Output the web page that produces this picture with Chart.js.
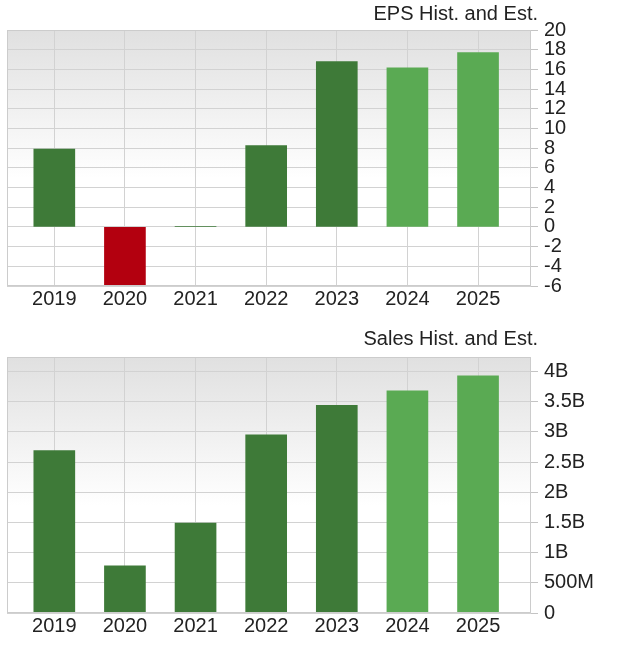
<!DOCTYPE html>
<html>
<head>
<meta charset="utf-8">
<title>EPS and Sales Hist. and Est.</title>
<script src="https://cdn.jsdelivr.net/npm/chart.js@4.4.0/dist/chart.umd.min.js"></script>
<style>
  body { margin: 0; background: #fff; width: 620px; height: 653px; position: relative; overflow: hidden; font-family: "Liberation Sans", Arial, sans-serif; }
  canvas { position: absolute; left: 0; }
  .title { position: absolute; right: 82px; font-size: 20px; line-height: 24px; color: #222; white-space: nowrap; }
</style>
</head>
<body>
<canvas id="epsChart" width="620" height="320" style="top:0"></canvas>
<canvas id="salesChart" width="620" height="333" style="top:320px"></canvas>
<div class="title" style="top:1px">EPS Hist. and Est.</div>
<div class="title" style="top:326px">Sales Hist. and Est.</div>

<script>
// values
const years = ['2019', '2020', '2021', '2022', '2023', '2024', '2025'];
const estimateYears = ['2024', '2025'];

const epsValues = [7.9, -6, 0.04, 8.25, 16.8, 16.15, 17.7];
const epsTicks = [-6, -4, -2, 0, 2, 4, 6, 8, 10, 12, 14, 16, 18, 20];
const epsTickLabels = ['-6', '-4', '-2', '0', '2', '4', '6', '8', '10', '12', '14', '16', '18', '20'];

const salesValues = [2.69e9, 0.78e9, 1.49e9, 2.95e9, 3.44e9, 3.68e9, 3.93e9];
const salesTicks = [0, 0.5e9, 1e9, 1.5e9, 2e9, 2.5e9, 3e9, 3.5e9, 4e9];
const salesTickLabels = ['0', '500M', '1B', '1.5B', '2B', '2.5B', '3B', '3.5B', '4B'];

// grey fading background plus thin frame round the plot area
const plotFrame = {
    id: 'plotFrame',
    beforeDraw(chart) {
        const ctx = chart.ctx, a = chart.chartArea;
        const g = ctx.createLinearGradient(0, a.top, 0, a.bottom);
        g.addColorStop(0, '#e0e0e0');
        g.addColorStop(0.58, '#ffffff');
        g.addColorStop(1, '#ffffff');
        ctx.save();
        ctx.fillStyle = g;
        ctx.fillRect(a.left, a.top, a.right - a.left, a.bottom - a.top);
        ctx.restore();
    },
    afterDatasetsDraw(chart) {
        const ctx = chart.ctx, a = chart.chartArea;
        ctx.save();
        ctx.strokeStyle = '#cccccc';
        ctx.lineWidth = 1;
        ctx.strokeRect(Math.round(a.left) + 0.5, Math.round(a.top) + 0.5,
            Math.round(a.right - a.left) - 1, Math.round(a.bottom - a.top) - 1);
        ctx.restore();
    }
};

function barColors(values) {
    return values.map((v, i) => {
        if (v < 0) return '#b3000f';
        return estimateYears.includes(years[i]) ? '#5aaa53' : '#3e7a38';
    });
}

function makeChart(id, values, yMin, yMax, yTicks, yLabels, padTop, xHeight) {
    var ctx = document.getElementById(id).getContext('2d');
    return new Chart(ctx, {
        type: 'bar',
        data: {
            datasets: [{
                data: values.map((v, i) => ({ x: i, y: v })),
                backgroundColor: barColors(values),
                borderWidth: 0,
                barThickness: 41
            }]
        },
        options: {
            responsive: false,
            animation: false,
            layout: { padding: { left: 7, top: padTop, right: 0, bottom: 0 } },
            plugins: {
                legend: { display: false },
                tooltip: { enabled: false }
            },
            scales: {
                x: {
                    type: 'linear',
                    min: -0.67,
                    max: 6.75,
                    offset: false,
                    afterBuildTicks: scale => { scale.ticks = years.map((y, i) => ({ value: i })); },
                    afterFit: scale => { scale.height = xHeight; },
                    grid: { color: '#d2d2d2', drawTicks: false, offset: false },
                    border: { display: false },
                    ticks: {
                        padding: 1,
                        maxRotation: 0,
                        autoSkip: false,
                        color: '#222',
                        font: { family: 'Liberation Sans', size: 20 },
                        callback: value => years[value]
                    }
                },
                y: {
                    position: 'right',
                    min: yMin,
                    max: yMax,
                    afterBuildTicks: scale => { scale.ticks = yTicks.map(v => ({ value: v })); },
                    afterFit: scale => { scale.width = 89; },
                    grid: { color: '#d2d2d2', tickLength: 7, tickColor: '#c4c4c4' },
                    border: { display: false },
                    ticks: {
                        padding: 6,
                        autoSkip: false,
                        color: '#222',
                        font: { family: 'Liberation Sans', size: 20 },
                        callback: value => yLabels[yTicks.indexOf(value)]
                    }
                }
            }
        },
        plugins: [plotFrame]
    });
}

window.onload = function() {
    makeChart('epsChart', epsValues, -6, 20, epsTicks, epsTickLabels, 30, 34);
    makeChart('salesChart', salesValues, 0, 4.24e9, salesTicks, salesTickLabels, 37, 40);
};
</script>
</body>
</html>
